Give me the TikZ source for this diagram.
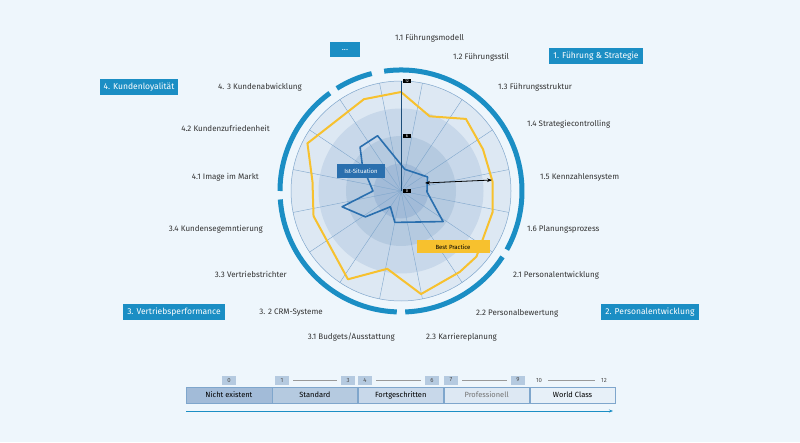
\documentclass[tikz,border=0pt]{standalone}
\usepackage{fontspec}
\setmainfont{Fira Sans}
\usetikzlibrary{arrows.meta}
\definecolor{bgblue}{HTML}{EEF6FC}
\definecolor{ringblue}{HTML}{1B8EC4}
\definecolor{istblue}{HTML}{2A6FAE}
\definecolor{bestyellow}{HTML}{F7C12E}
\definecolor{discA}{HTML}{DDE8F3}
\definecolor{discB}{HTML}{C8D8EA}
\definecolor{discC}{HTML}{B5CAE0}
\definecolor{discD}{HTML}{A2BBD8}
\definecolor{spoke}{HTML}{7FA6CC}
\tikzset{
  lbl/.style={font=\fontsize{8}{9}\selectfont, text=black!80, inner sep=0pt},
  catbox/.style={fill=ringblue, text=white, font=\fontsize{8.5}{10}\selectfont, minimum height=15pt, inner xsep=4pt},
  tick/.style={fill=black, text=white, font=\fontsize{4}{4}\selectfont, inner sep=1pt, minimum width=8pt},
  scalebox/.style={draw=spoke, minimum width=85.5pt, minimum height=16pt, font=\fontsize{7.5}{9}\selectfont, inner sep=0pt},
  numbox/.style={fill=discC, minimum width=14pt, minimum height=9pt, font=\fontsize{6}{7}\selectfont, text=black!70, inner sep=0pt},
  numline/.style={draw=black!40, line width=0.5pt}
}
\begin{document}
\begin{tikzpicture}[x=1pt,y=1pt]
  \fill[bgblue] (0,0) rectangle (800,442);
  \useasboundingbox (0,0) rectangle (800,442);

  % discs
  \begin{scope}[shift={(401,251)}]
    \fill[discA] (0,0) circle (110);
    \fill[discB] (0,0) circle (82.5);
    \fill[discC] (0,0) circle (55);
    \fill[discD] (0,0) circle (27.5);
    \draw[spoke, line width=0.5pt] (0,0) circle (110);
    \foreach \a in {0,22.5,...,337.5}
      \draw[spoke, line width=0.4pt] (0,0) -- (\a+11.25:110);

    % outer ring
    \draw[ringblue, line width=5pt] (98:121) arc (98:-29:121);
    \draw[ringblue, line width=5pt] (-33:121) arc (-33:-88:121);
    \draw[ringblue, line width=5pt] (-92:121) arc (-92:-176:121);
    \draw[ringblue, line width=5pt] (-180:121) arc (180:126:121);
    \draw[ringblue, line width=5pt] (122:121) arc (122:104:121);

    % best practice
    \draw[bestyellow, line width=2pt, line join=round]
      (90:99) -- (69:80) -- (48:97) -- (27:92) -- (6:92) -- (-13:94) -- (-41:100)
      -- (-54:100) -- (-79:105) -- (-100:79) -- (-121:103) -- (-164:91)
      -- (174:89) -- (153:105) -- (112:99) -- cycle;
    % ist-situation
    \draw[istblue, line width=1.6pt, line join=round]
      (80:22) -- (28:30) -- (-2:26) -- (-36:52) -- (-101:32) -- (-124:19)
      -- (-144:44) -- (-165:61) -- (180:28) -- (147:46) -- (133:60)
      -- (113:60) -- cycle;

    % axis
    \coordinate (c0) at (0,0);
    \coordinate (c12) at (0,110);
    \draw[istblue!70!black, line width=0.8pt] (c0) -- (c12);
    \node[tick] (t12) at (6,110) {12};
    \node[tick] (t6) at (6,55) {6};
    \node[tick] (t0) at (6,0) {0};
    \coordinate (ha) at (24,8);
    \coordinate (hb) at (91,11);
    \draw[{Stealth[length=5pt]}-{Stealth[length=5pt]}, line width=0.8pt] (ha) -- (hb);
  \end{scope}

  \node[fill=istblue, text=white, font=\fontsize{6}{7}\selectfont, minimum width=48pt, minimum height=14pt, inner sep=0pt] (ist) at (361,271) {Ist-Situation};
  \node[fill=bestyellow, font=\fontsize{6}{7}\selectfont, minimum width=73pt, minimum height=13pt, inner sep=0pt] (best) at (453,195) {Best Practice};

  % category boxes
  \node[catbox, minimum width=30pt] (dots) at (345,392) {...};
  \node[catbox] (k1) at (596,386) {1. Führung \& Strategie};
  \node[catbox] (k4) at (139,355) {4. Kundenloyalität};
  \node[catbox] (k3) at (174,130) {3. Vertriebsperformance};
  \node[catbox] (k2) at (650,130) {2. Personalentwicklung};

  % item labels
  \node[lbl, anchor=west] (i11) at (395,404) {1.1 Führungsmodell};
  \node[lbl, anchor=west] (i12) at (453,385) {1.2 Führungsstil};
  \node[lbl, anchor=west] (i13) at (498,355) {1.3 Führungsstruktur};
  \node[lbl, anchor=west] (i14) at (527,318) {1.4 Strategiecontrolling};
  \node[lbl, anchor=west] (i15) at (540,265) {1.5 Kennzahlensystem};
  \node[lbl, anchor=west] (i16) at (527,213) {1.6 Planungsprozess};
  \node[lbl, anchor=west] (i21) at (513,167) {2.1 Personalentwicklung};
  \node[lbl, anchor=west] (i22) at (476,129) {2.2 Personalbewertung};
  \node[lbl, anchor=west] (i23) at (426,105) {2.3 Karriereplanung};
  \node[lbl, anchor=east] (i31) at (395,105) {3.1 Budgets/Ausstattung};
  \node[lbl, anchor=east] (i32) at (323,129) {3. 2 CRM-Systeme};
  \node[lbl, anchor=east] (i33) at (287,168) {3.3 Vertriebstrichter};
  \node[lbl, anchor=east] (i34) at (263,213) {3.4 Kundensegemntierung};
  \node[lbl, anchor=east] (i41) at (259,265) {4.1 Image im Markt};
  \node[lbl, anchor=east] (i42) at (270,314) {4.2 Kundenzufriedenheit};
  \node[lbl, anchor=east] (i43) at (302,355) {4. 3 Kundenabwicklung};

  % scale
  \node[scalebox, fill=discD, anchor=west] (s0) at (186,47) {Nicht existent};
  \node[scalebox, fill=discC, anchor=west] (s1) at (s0.east) {Standard};
  \node[scalebox, fill=discB, anchor=west] (s2) at (s1.east) {Fortgeschritten};
  \node[scalebox, fill=discA, anchor=west, text=black!55] (s3) at (s2.east) {Professionell};
  \node[scalebox, fill=bgblue!60!discA, anchor=west] (s4) at (s3.east) {World Class};
  \coordinate (ar0) at (186,31);
  \coordinate (ar1) at (613,31);
  \draw[ringblue, line width=0.6pt, -{Stealth[length=4pt]}] (ar0) -- (ar1);

  \node[numbox] (n0) at (229,62) {0};
  \node[numbox] (n1) at (282,62) {1};
  \node[numbox] (n3) at (348,62) {3};
  \node[numbox] (n4) at (365,62) {4};
  \node[numbox] (n6) at (432,62) {6};
  \node[numbox] (n7) at (451,62) {7};
  \node[numbox] (n9) at (518,62) {9};
  \node[numbox, fill=none] (n10) at (539,62) {10};
  \node[numbox, fill=none] (n12) at (604,62) {12};
  \draw[numline] (n1.east) ++(4,0) -- ([xshift=-4pt]n3.west);
  \draw[numline] (n4.east) ++(4,0) -- ([xshift=-4pt]n6.west);
  \draw[numline] (n7.east) ++(4,0) -- ([xshift=-4pt]n9.west);
  \draw[numline] (n10.east) ++(2,0) -- ([xshift=-2pt]n12.west);
\end{tikzpicture}
\end{document}
